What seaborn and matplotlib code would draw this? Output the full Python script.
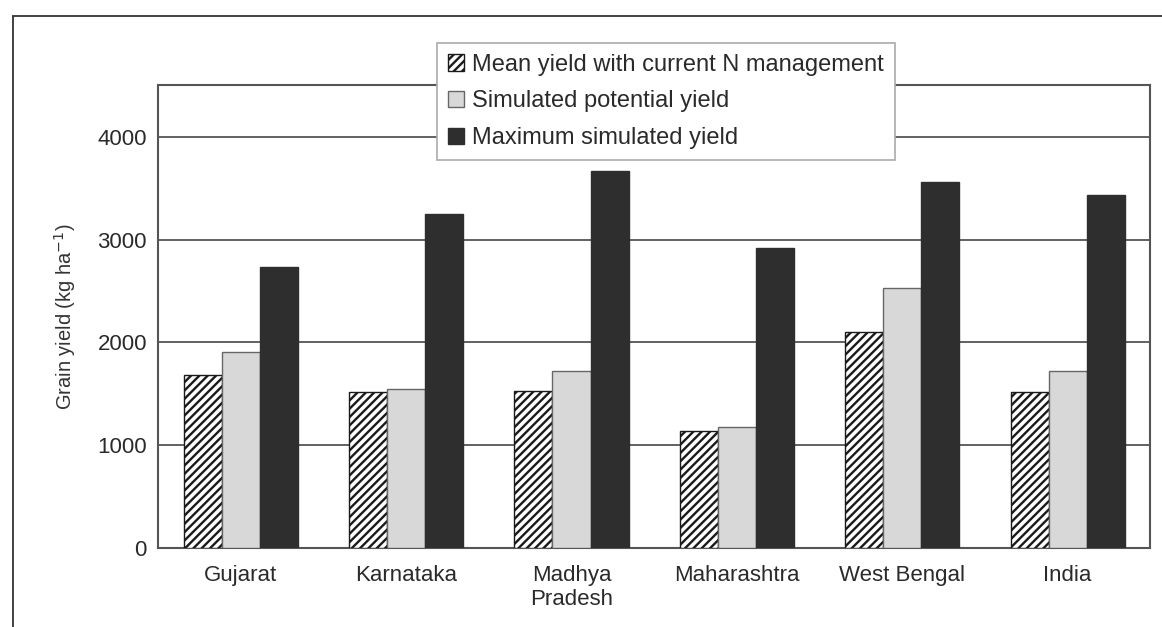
import numpy as np
import pandas as pd
import matplotlib
matplotlib.use('Agg')
import matplotlib.pyplot as plt
from matplotlib.lines import Line2D
import seaborn as sns

# ── Data ───────────────────────────────────────────────────────────
states = ['Gujarat', 'Karnataka', 'Madhya\nPradesh', 'Maharashtra', 'West Bengal', 'India']
series = ['Mean yield with current N management',
          'Simulated potential yield',
          'Maximum simulated yield']
mean_yield = [1680, 1515, 1525, 1140, 2105, 1515]
potential_yield = [1905, 1545, 1720, 1175, 2525, 1720]
max_yield = [2730, 3250, 3670, 2920, 3555, 3435]
y_ticks = [0, 1000, 2000, 3000, 4000]

df = pd.DataFrame({
    'state': states * 3,
    'series': np.repeat(series, len(states)),
    'yield': mean_yield + potential_yield + max_yield,
})

sns.set_theme(style='white')
plt.rcParams['font.family'] = ['Liberation Sans', 'DejaVu Sans']
plt.rcParams['hatch.linewidth'] = 1.7

fig = plt.figure(figsize=(11.62, 6.27), dpi=100)
ax = fig.add_axes([0.136, 0.126, 0.854, 0.738])

faces = ['white', '#d8d8d8', '#2e2e2e']
edges = ['#1a1a1a', '#666666', '#2e2e2e']
hatches = ['////', '', '']

sns.barplot(data=df, x='state', y='yield', hue='series', hue_order=series,
            order=states, palette=faces, width=0.69, gap=0.0,
            legend=False, ax=ax, zorder=3)

for cont, fc, ec, h in zip(ax.containers, faces, edges, hatches):
    for p in cont:
        p.set_facecolor(fc)
        p.set_edgecolor(ec)
        p.set_hatch(h)
        p.set_linewidth(1.0)

ax.set_ylim(0, 4500)
ax.set_xlim(-0.5, len(states) - 0.5)
ax.set_yticks(y_ticks)
ax.yaxis.grid(True, color='#555555', linewidth=1.3, zorder=0)
ax.set_axisbelow(True)

# category ticks at the group boundaries
ax.set_xticks(np.arange(-0.5, len(states), 1.0), minor=True)
ax.tick_params(axis='x', which='major', length=0, labelsize=16, colors='#2a2a2a', pad=12)
ax.tick_params(axis='x', which='minor', length=5, width=1.2, color='#555555', direction='out')
ax.tick_params(axis='y', length=6, width=1.3, color='#555555', direction='out',
               labelsize=16, labelcolor='#2a2a2a', pad=2)
ax.set_xlabel('')
ax.set_ylabel('Grain yield (kg ha$^{-1}$)', fontsize=14.5, color='#333333', labelpad=14)

for s in ax.spines.values():
    s.set_color('#555555')
    s.set_linewidth(1.5)

handles = [cont[0] for cont in ax.containers]
leg = ax.legend(handles, series, loc='upper left', bbox_to_anchor=(0.281, 1.091),
                borderaxespad=0, fontsize=17, frameon=True, fancybox=False, framealpha=1,
                edgecolor='#aaaaaa', handlelength=0.7, handleheight=0.7,
                handletextpad=0.35, labelspacing=0.62, borderpad=0.45)
leg.get_frame().set_linewidth(1.2)
for t in leg.get_texts():
    t.set_color('#2a2a2a')

# outer frame around the figure
fig.add_artist(Line2D([13 / 1162, 13 / 1162], [1 - 16 / 627, 0], color='#333333', lw=1.3))
fig.add_artist(Line2D([13 / 1162, 1.0], [1 - 16 / 627, 1 - 16 / 627], color='#333333', lw=1.3))

plt.savefig('out.png', dpi=100)
